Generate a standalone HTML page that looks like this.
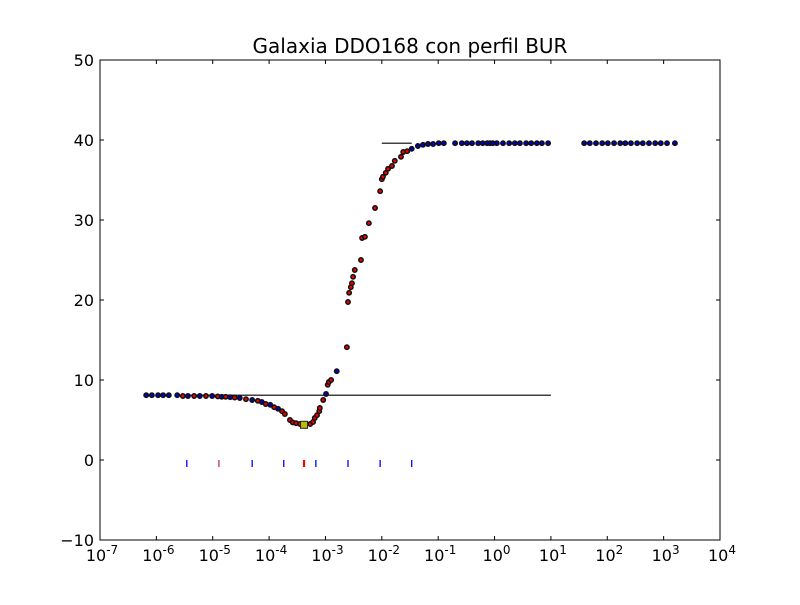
<!DOCTYPE html>
<html><head><meta charset="utf-8"><style>
body{margin:0;background:#fff;}
svg text{font-family:"DejaVu Sans","Liberation Sans",sans-serif;}
</style></head><body>
<svg id="chart" width="800" height="600" xmlns="http://www.w3.org/2000/svg">
<rect width="800" height="600" fill="#fff"/>
<text x="410" y="53" font-size="20" text-anchor="middle">Galaxia DDO168 con perfil BUR</text>
<g id="marks"></g>
<rect x="100" y="60" width="620" height="480" fill="none" stroke="#000" stroke-width="1"/>
<g id="axes"></g>
</svg>
<script>
const logX = [-6.18,-6.08,-5.97,-5.88,-5.78,-5.63,-5.53,-5.44,-5.33,-5.23,-5.12,-5.01,-4.91,-4.84,-4.77,-4.69,-4.61,-4.52,-4.41,-4.30,-4.20,-4.13,-4.06,-3.98,-3.91,-3.84,-3.77,-3.72,-3.63,-3.58,-3.52,-3.45,-3.27,-3.22,-3.19,-3.15,-3.11,-3.10,-3.04,-2.99,-2.96,-2.94,-2.90,-2.80,-2.62,-2.60,-2.58,-2.55,-2.53,-2.51,-2.48,-2.37,-2.35,-2.30,-2.23,-2.12,-2.03,-2.00,-1.98,-1.93,-1.89,-1.82,-1.77,-1.66,-1.62,-1.55,-1.47,-1.36,-1.27,-1.18,-1.09,-0.99,-0.90,-0.70,-0.58,-0.49,-0.40,-0.29,-0.21,-0.13,-0.08,-0.03,0.04,0.15,0.26,0.36,0.45,0.56,0.65,0.75,0.84,0.95,1.59,1.69,1.80,1.91,2.01,2.12,2.23,2.32,2.42,2.53,2.63,2.74,2.85,2.95,3.06,3.20];
const velY = [8.1,8.1,8.1,8.1,8.1,8.1,8.0,8.0,8.0,8.0,8.0,8.0,7.95,7.9,7.9,7.85,7.8,7.75,7.6,7.5,7.4,7.25,7.0,6.9,6.6,6.4,6.1,5.75,5.0,4.7,4.6,4.5,4.5,4.75,5.25,5.6,6.1,6.5,7.5,8.25,9.4,9.75,10.0,11.1,14.1,19.75,20.9,21.6,22.1,22.9,23.75,25.0,27.75,27.9,29.6,31.5,33.6,35.1,35.4,35.9,36.4,36.75,37.4,37.9,38.5,38.6,38.9,39.25,39.4,39.5,39.5,39.6,39.6,39.6,39.6,39.6,39.6,39.6,39.6,39.6,39.6,39.6,39.6,39.6,39.6,39.6,39.6,39.6,39.6,39.6,39.6,39.6,39.6,39.6,39.6,39.6,39.6,39.6,39.6,39.6,39.6,39.6,39.6,39.6,39.6,39.6,39.6,39.6,39.6];
const ptColor = "bbbbbb" + "rbrbrbrbrbrbrbrbrbrbrrrrrr" + "rrrrrrrbrrrb" + "r" + "rrrrrrrrrrrrrrrrrrrrr" + "bbbbb" + "bbbbbbbbbbbbbbbbbbbbbbbbbbbbbbbbbbbbbb";
const minLogX = [-3.38];
const minY = [4.4];
const rugX = [-5.46,-4.89,-4.30,-3.74,-3.38,-3.17,-2.60,-2.03,-1.47];
const rugColor = ["b","p","b","b","r","b","b","b","b"];
const lineX0 = [-5.53,-2.0];
const lineX1 = [1.0,-1.47];
const lineY = [8.1,39.6];
const xTicks = [-7,-6,-5,-4,-3,-2,-1,0,1,2,3,4];
const yTicks = [-10,0,10,20,30,40,50];

const NS="http://www.w3.org/2000/svg";
const X0=100,X1=720,Y0=540,Y1=60;
const sx=l=>X0+(l+7)/11*(X1-X0);
const sy=v=>Y0-(v+10)/60*(Y0-Y1);
function mk(t,a,p){const e=document.createElementNS(NS,t);for(const k in a)e.setAttribute(k,a[k]);p.appendChild(e);return e;}
const marks=document.getElementById('marks'),axes=document.getElementById('axes');
lineY.forEach((y,i)=>{
  const l=mk('line',{x1:sx(lineX0[i]),x2:sx(lineX1[i]),y1:sy(y),y2:sy(y),stroke:'#000','stroke-width':1.2},marks);
  
  
});
rugX.forEach((v,i)=>{
  const c=rugColor[i]=='r'?'#f00':rugColor[i]=='p'?'#b0307a':'#00f';
  const l=mk('line',{x1:sx(v),x2:sx(v),y1:sy(0),y2:sy(0)+7,stroke:c,'stroke-width':rugColor[i]=='r'?2.2:1.3},marks);
  
  
});
logX.forEach((v,i)=>{
  const c=ptColor[i]=='r'?'#e00':'#0000c8';
  const p=mk('circle',{cx:sx(v),cy:sy(velY[i]),r:2.2,fill:c,stroke:'#111','stroke-width':1.5},marks);
  
  
});
minLogX.forEach((v,i)=>{
  const s=mk('rect',{x:sx(v)-3.5,y:sy(minY[i])-3.5,width:7,height:7,fill:'#bcbc00',stroke:'#222','stroke-width':1},marks);
  
  
});
xTicks.forEach(t=>{
  const x=sx(t);
  mk('line',{x1:x,x2:x,y1:Y0,y2:Y0-4,stroke:'#000'},axes);
  mk('line',{x1:x,x2:x,y1:Y1,y2:Y1+4,stroke:'#000'},axes);
  const tx=mk('text',{x:x+2,y:561,'font-size':16,'text-anchor':'middle'},axes);
  
  
  tx.textContent='10';
  const sp=document.createElementNS(NS,'tspan');sp.setAttribute('dy','-7');sp.setAttribute('font-size','12');sp.textContent=String(t);tx.appendChild(sp);
});
yTicks.forEach(t=>{
  const y=sy(t);
  mk('line',{x1:X0,x2:X0+4,y1:y,y2:y,stroke:'#000'},axes);
  mk('line',{x1:X1,x2:X1-4,y1:y,y2:y,stroke:'#000'},axes);
  const tx=mk('text',{x:94,y:y+6,'font-size':16,'text-anchor':'end'},axes);
  
  
  tx.textContent=t<0?'\u2212'+(-t):String(t);
});
</script>
</body></html>
